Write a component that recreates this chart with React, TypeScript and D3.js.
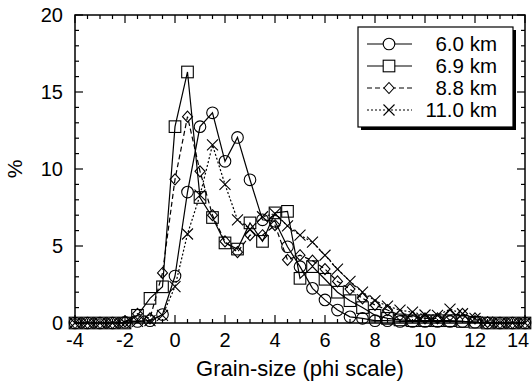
import React, { useEffect, useRef } from "react";
import * as d3 from "d3";

// grain size (phi), every half unit from -4 to 14
const phi = [-4, -3.5, -3, -2.5, -2, -1.5, -1, -0.5, 0, 0.5, 1, 1.5, 2, 2.5, 3, 3.5, 4, 4.5, 5, 5.5, 6, 6.5, 7, 7.5, 8, 8.5, 9, 9.5, 10, 10.5, 11, 11.5, 12, 12.5, 13, 13.5, 14];

const km60 = [0, 0, 0, 0, 0.05, 0.1, 0.15, 0.55, 3.05, 8.5, 12.75, 13.65, 10.5, 12.05, 9.3, 6.7, 6.6, 4.95, 3.66, 2.25, 1.5, 0.84, 0.4, 0.3, 0.15, 0.15, 0.1, 0.1, 0.1, 0.1, 0.1, 0.1, 0.05, 0, 0, 0, 0];
const km69 = [0, 0, 0, 0, 0, 0.5, 1.6, 2.35, 12.75, 16.3, 8.15, 6.85, 5.2, 4.8, 6.5, 5.3, 7.15, 7.25, 2.9, 3.66, 2.84, 2.0, 1.45, 1.0, 0.5, 0.3, 0.2, 0.15, 0.15, 0.15, 0.15, 0.1, 0.05, 0, 0, 0, 0];
const km88 = [0, 0, 0, 0, 0.1, 0.6, 0.3, 3.25, 9.33, 13.4, 9.85, 7.0, 5.3, 4.6, 5.7, 5.7, 6.35, 4.1, 4.4, 4.05, 3.5, 2.7, 2.2, 1.6, 1.17, 0.84, 0.5, 0.4, 0.3, 0.3, 0.5, 0.6, 0.3, 0.05, 0, 0, 0];
const km110 = [0, 0, 0, 0, 0, 0.1, 0.15, 0.5, 2.36, 5.78, 8.3, 11.56, 9.0, 6.7, 6.1, 6.9, 7.1, 6.3, 5.7, 5.25, 4.4, 3.5, 2.7, 2.0, 1.45, 1.1, 0.84, 0.7, 0.52, 0.5, 0.9, 0.6, 0.3, 0.05, 0, 0, 0];

const seriesNames = ["6.0 km", "6.9 km", "8.8 km", "11.0 km"];
const seriesValues = [km60, km69, km88, km110];
const seriesMarkers = ["circle", "square", "diamond", "cross"];
const seriesDash = [null, null, "5,3", "2,2"];

const xTicks = [-4, -2, 0, 2, 4, 6, 8, 10, 12, 14];
const yTicks = [0, 5, 10, 15, 20];

const W = 532;
const H = 382;
const margin = { top: 15, right: 7, bottom: 59, left: 75 };

function drawMarker(g: any, kind: string, x: number, y: number) {
  if (kind === "circle") {
    g.append("circle").attr("cx", x).attr("cy", y).attr("r", 5.8);
  } else if (kind === "square") {
    g.append("rect").attr("x", x - 5.8).attr("y", y - 5.8).attr("width", 11.6).attr("height", 11.6);
  } else if (kind === "diamond") {
    g.append("path").attr("d", `M${x},${y - 5.5}L${x + 5},${y}L${x},${y + 5.5}L${x - 5},${y}Z`);
  } else {
    g.append("path").attr("d", `M${x - 5.5},${y - 5.5}L${x + 5.5},${y + 5.5}M${x - 5.5},${y + 5.5}L${x + 5.5},${y - 5.5}`);
  }
}

const App = () => {
  const ref = useRef<SVGSVGElement>(null);

  useEffect(() => {
    const svg = d3.select(ref.current);
    svg.selectAll("*").remove();

    const x = d3.scaleLinear().domain([-4, 14]).range([margin.left, W - margin.right]);
    const y = d3.scaleLinear().domain([0, 20]).range([H - margin.bottom, margin.top]);
    const font = "Liberation Sans, Arial, sans-serif";

    // data lines
    seriesValues.forEach((vals, i) => {
      const pts = phi.map((p, j) => [p, vals[j]] as [number, number]);
      const line = d3.line<[number, number]>().x((d) => x(d[0])).y((d) => y(d[1]));
      svg
        .append("path")
        .attr("d", line(pts))
        .attr("fill", "none")
        .attr("stroke", "#000")
        .attr("stroke-width", 1.2)
        .attr("stroke-dasharray", seriesDash[i]);
      const mg = svg.append("g").attr("fill", "none").attr("stroke", "#000").attr("stroke-width", 1.1);
      pts.forEach((d) => drawMarker(mg, seriesMarkers[i], x(d[0]), y(d[1])));
    });

    // frame
    const x0 = x(-4), x1 = x(14), y0 = y(0), y1 = y(20);
    svg
      .append("rect")
      .attr("x", x0)
      .attr("y", y1)
      .attr("width", x1 - x0)
      .attr("height", y0 - y1)
      .attr("fill", "none")
      .attr("stroke", "#000")
      .attr("stroke-width", 1.5);

    // ticks, inward, mirrored on top/right
    const tg = svg.append("g").attr("stroke", "#000").attr("stroke-width", 1.2);
    d3.range(-4, 14.01, 0.5).forEach((v) => {
      const len = v % 2 === 0 ? 8 : 4;
      tg.append("line").attr("x1", x(v)).attr("x2", x(v)).attr("y1", y0).attr("y2", y0 - len);
      tg.append("line").attr("x1", x(v)).attr("x2", x(v)).attr("y1", y1).attr("y2", y1 + len);
    });
    d3.range(0, 20.01, 1).forEach((v) => {
      const len = v % 5 === 0 ? 8 : 4;
      tg.append("line").attr("x1", x0).attr("x2", x0 + len).attr("y1", y(v)).attr("y2", y(v));
      tg.append("line").attr("x1", x1).attr("x2", x1 - len).attr("y1", y(v)).attr("y2", y(v));
    });

    // tick labels
    svg
      .append("g")
      .selectAll("text")
      .data(xTicks)
      .join("text")
      .attr("x", (d) => Math.min(x(d), 518))
      .attr("y", y0 + 24)
      .attr("text-anchor", "middle")
      .style("font-family", font)
      .style("font-size", "20px")
      .text((d) => d);
    svg
      .append("g")
      .selectAll("text")
      .data(yTicks)
      .join("text")
      .attr("x", x0 - 12)
      .attr("y", (d) => y(d) + 7)
      .attr("text-anchor", "end")
      .style("font-family", font)
      .style("font-size", "20px")
      .text((d) => d);

    // axis titles
    svg
      .append("text")
      .attr("x", (x0 + x1) / 2)
      .attr("y", H - 6)
      .attr("text-anchor", "middle")
      .style("font-family", font)
      .style("font-size", "22px")
      .text("Grain-size (phi scale)");
    svg
      .append("text")
      .attr("transform", `translate(22, ${(y0 + y1) / 2}) rotate(-90)`)
      .attr("text-anchor", "middle")
      .style("font-family", font)
      .style("font-size", "21px")
      .text("%");

    // legend with shadow
    const lx = 358, ly = 27, lw = 155, lh = 100;
    svg.append("rect").attr("x", lx + 3).attr("y", ly + 3).attr("width", lw).attr("height", lh).attr("fill", "#000");
    svg
      .append("rect")
      .attr("x", lx)
      .attr("y", ly)
      .attr("width", lw)
      .attr("height", lh)
      .attr("fill", "#fff")
      .attr("stroke", "#000")
      .attr("stroke-width", 1.2);
    seriesNames.forEach((name, i) => {
      const ry = 44 + i * 22;
      svg
        .append("line")
        .attr("x1", 367)
        .attr("x2", 412)
        .attr("y1", ry)
        .attr("y2", ry)
        .attr("stroke", "#000")
        .attr("stroke-width", 1.2)
        .attr("stroke-dasharray", seriesDash[i]);
      const mg = svg.append("g").attr("fill", "#fff").attr("stroke", "#000").attr("stroke-width", 1.1);
      drawMarker(mg, seriesMarkers[i], 389, ry);
      svg
        .append("text")
        .attr("x", 497)
        .attr("y", ry + 7)
        .attr("text-anchor", "end")
        .style("font-family", font)
        .style("font-size", "20.5px")
        .text(name);
    });
  }, []);

  return (
    <svg ref={ref} width={W} height={H} style={{ position: "absolute", left: 0, top: 0, background: "#fff" }}></svg>
  );
};

export default App;
